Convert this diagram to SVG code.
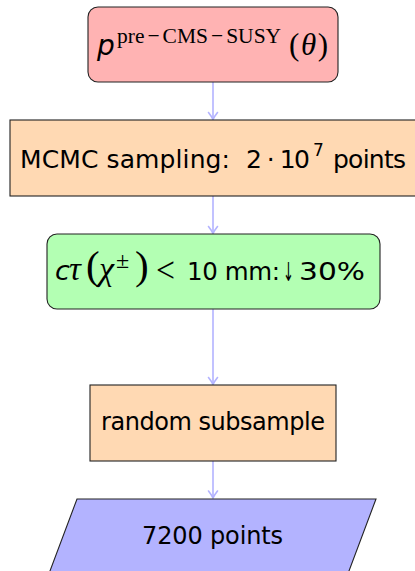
<svg xmlns="http://www.w3.org/2000/svg" width="415" height="571" viewBox="0 0 415 571">
<style>
.box{stroke:#222;stroke-width:1.1}
.red{fill:#FFB3B3}
.orange{fill:#FFD9B3}
.green{fill:#B3FFB3}
.blue{fill:#B3B3FF}
.t{font-family:"DejaVu Sans",sans-serif;fill:#000}
.m{font-family:"Liberation Serif",serif;fill:#000}
.it{font-style:italic}
.edge{stroke:#B3B3FF;stroke-width:1.6;fill:none;marker-end:url(#ah)}
</style>
<defs>
<marker id="ah" markerUnits="userSpaceOnUse" markerWidth="14" markerHeight="14" refX="0" refY="0" viewBox="-9 -7 11 14" orient="auto" overflow="visible">
<path d="M -7 -4.5 Q -2.5 -1 0 0 Q -2.5 1 -7 4.5" fill="none" stroke="#B3B3FF" stroke-width="1.6" stroke-linecap="round"/>
</marker>
</defs>
<g id="connectors">
<line class="edge" x1="213" y1="82" x2="213" y2="119.5"/>
<line class="edge" x1="213" y1="196" x2="213" y2="233.5"/>
<line class="edge" x1="213" y1="309" x2="213" y2="384.5"/>
<line class="edge" x1="213" y1="461" x2="213" y2="498"/>
</g>
<g id="node1">
<rect class="box red" x="88" y="7" width="250" height="75" rx="10"/>
<text class="t it" x="97" y="55" font-size="28">p</text>
<text class="m" x="117" y="43" font-size="21.5">pre<tspan dx="3">−</tspan><tspan dx="3">CMS</tspan><tspan dx="3">−</tspan><tspan dx="3">SUSY</tspan></text>
<text class="m" x="289" y="55" font-size="31" textLength="39">(<tspan class="it">θ</tspan>)</text>
</g>
<g id="node2">
<rect class="box orange" x="10" y="120" width="412" height="76"/>
<text class="t" x="20" y="168" font-size="25" textLength="210">MCMC sampling:</text>
<text class="t" x="246" y="168" font-size="25" textLength="64">2 · 10</text>
<text class="t" x="313" y="156" font-size="17">7</text>
<text class="t" x="333" y="168" font-size="25" textLength="73">points</text>
</g>
<g id="node3">
<rect class="box green" x="47" y="234" width="333" height="75" rx="10"/>
<text class="t it" x="55" y="280" font-size="27">c</text>
<text class="m it" x="69" y="280" font-size="33">τ</text>
<text class="m" x="86" y="279" font-size="41">(</text>
<text class="m it" x="99" y="280" font-size="34">χ</text>
<text class="m" x="116" y="268" font-size="24">±</text>
<text class="m" x="135" y="279" font-size="41">)</text>
<text class="m" x="156" y="282" font-size="36" textLength="19" lengthAdjust="spacingAndGlyphs">&lt;</text>
<text class="t" x="187" y="280" font-size="24.5" textLength="93">10 mm:</text>
<text class="t" transform="translate(288.5,281) scale(0.5,1)" text-anchor="middle" font-size="26">↓</text>
<text class="t" x="299" y="280" font-size="24.5" textLength="66" lengthAdjust="spacingAndGlyphs">30%</text>
</g>
<g id="node4">
<rect class="box orange" x="90" y="385" width="246" height="76"/>
<text class="t" x="101" y="430" font-size="24" textLength="224">random subsample</text>
</g>
<g id="node5">
<polygon class="box blue" points="77,499 376,499 345.6,580 46.6,580"/>
<text class="t" x="142" y="544" font-size="24" textLength="141">7200 points</text>
</g>
</svg>
